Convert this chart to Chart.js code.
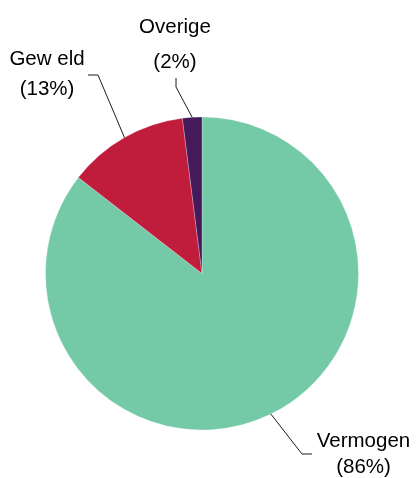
<!DOCTYPE html>
<html>
<head>
<meta charset="utf-8">
<script src="https://cdn.jsdelivr.net/npm/chart.js@4/dist/chart.umd.min.js"></script>
<style>
  html, body { margin: 0; padding: 0; background: #ffffff; }
  #wrap { width: 419px; height: 478px; }
</style>
</head>
<body>
<div id="wrap"><canvas id="c" width="419" height="478"></canvas></div>
<script>
// ---- data ----
const categories = ['Vermogen', 'Gew eld', 'Overige'];
const values = [85.5, 12.5, 2.0];
const percentLabels = ['(86%)', '(13%)', '(2%)'];
const colors = ['#74C9A7', '#C01C3C', '#46195A'];

// ---- label layout (offsets relative to pie centre, in px) ----
const labelLayout = [
  { elbow: [100, 180.5], end: [110, 180.5], textX: 161.5, base1: 173.5, base2: 199.5 },
  { elbow: [-104, -198.5], end: [-114, -198.5], textX: -155, base1: -208.5, base2: -178.5 },
  { elbow: [-26, -186.5], end: [-26, -195.5], textX: -27, base1: -240.5, base2: -205.5 }
];

const labelPlugin = {
  id: 'pieLabels',
  afterDatasetsDraw(chart) {
    const ctx = chart.ctx;
    const meta = chart.getDatasetMeta(0);
    meta.data.forEach((arc, i) => {
      const p = arc.getProps(['x', 'y', 'startAngle', 'endAngle', 'outerRadius'], true);
      const mid = (p.startAngle + p.endAngle) / 2;
      const sx = p.x + Math.cos(mid) * p.outerRadius;
      const sy = p.y + Math.sin(mid) * p.outerRadius;
      const L = labelLayout[i];
      ctx.save();
      ctx.strokeStyle = '#1a1a1a';
      ctx.lineWidth = 1;
      ctx.beginPath();
      ctx.moveTo(sx, sy);
      ctx.lineTo(p.x + L.elbow[0], p.y + L.elbow[1]);
      ctx.lineTo(p.x + L.end[0], p.y + L.end[1]);
      ctx.stroke();
      ctx.fillStyle = '#000000';
      ctx.font = '20.5px "Liberation Sans", Arial, sans-serif';
      ctx.textAlign = 'center';
      ctx.textBaseline = 'alphabetic';
      ctx.fillText(categories[i], p.x + L.textX, p.y + L.base1);
      ctx.fillText(percentLabels[i], p.x + L.textX, p.y + L.base2);
      ctx.restore();
    });
  }
};

new Chart(document.getElementById('c'), {
  type: 'pie',
  data: {
    labels: categories,
    datasets: [{
      data: values,
      backgroundColor: colors,
      borderColor: 'rgba(255,255,255,0.25)',
      borderWidth: 1
    }]
  },
  options: {
    responsive: false,
    animation: false,
    layout: { padding: { left: 45, right: 60, top: 116.5, bottom: 47.5 } },
    plugins: {
      legend: { display: false },
      tooltip: { enabled: false }
    }
  },
  plugins: [labelPlugin]
});
</script>
</body>
</html>
